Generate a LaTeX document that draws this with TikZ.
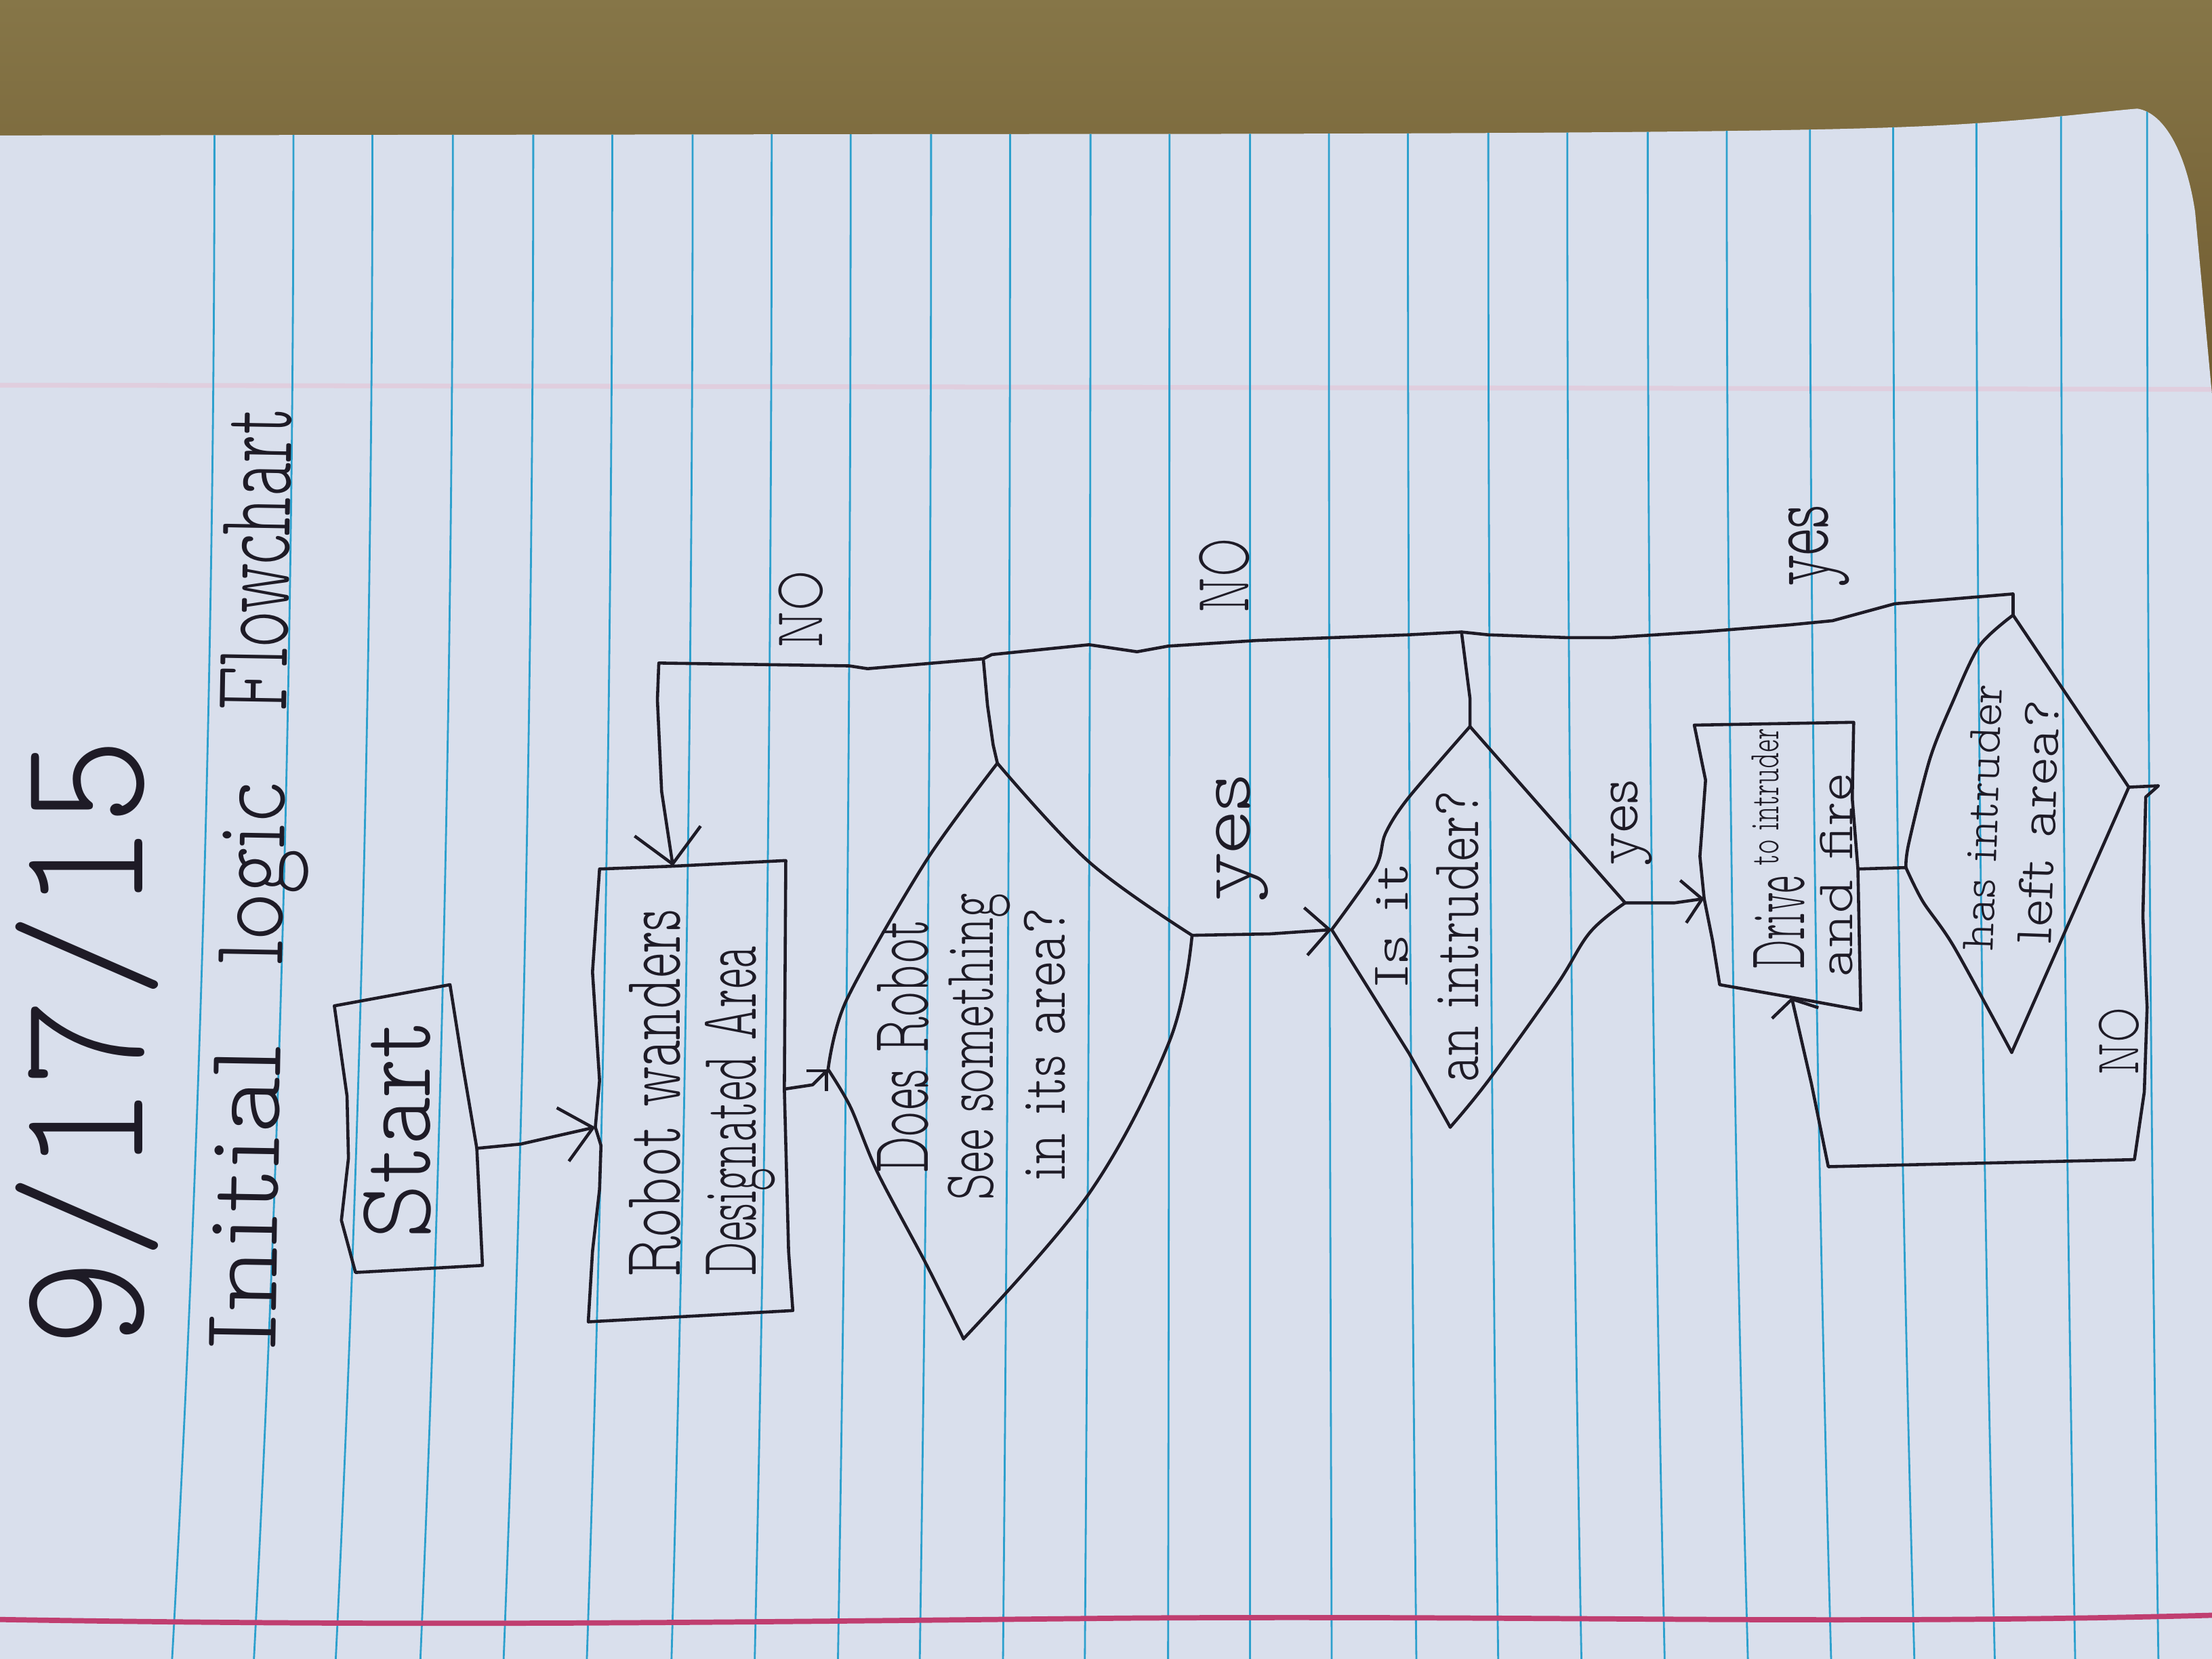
\documentclass[tikz,border=0pt]{standalone}
\usepackage{fontspec}
\usepackage{graphicx}
\usetikzlibrary{arrows.meta}
\newfontfamily\hand{lmmonoproplt10-regular.otf}
% one unit of the drawing grid
\newlength\spx
\setlength\spx{0.020816cm}
% handwritten line: width, height (above baseline), text
\newcommand\hw[3]{\resizebox{#1\spx}{#2\spx}{\hand #3}}
\definecolor{tabletop}{RGB}{134,118,72}
\definecolor{tablebot}{RGB}{108,86,43}
\definecolor{papercol}{RGB}{217,223,236}
\definecolor{rulecol}{RGB}{45,160,205}
\definecolor{margincol}{RGB}{192,62,112}
\definecolor{faintcol}{RGB}{224,206,222}
\definecolor{inkcol}{RGB}{30,27,38}
\begin{document}
\begin{tikzpicture}[x=0.020816cm, y=-0.020816cm,
  ink/.style={draw=inkcol, line width=1.3pt, line join=round, line cap=round},
  hwtext/.style={inner sep=0pt, outer sep=0pt, anchor=base, text=inkcol},
  barb/.style 2 args={-{Straight Barb[length=#1, width=#2]}},
  rulestyle/.style={draw=rulecol, line width=0.8pt}]

\useasboundingbox (0,0) rectangle (1568,1176);

% desk behind the sheet
\shade[top color=tabletop, bottom color=tablebot] (0,0) rectangle (1568,330);

% the sheet of ruled paper
\fill[papercol] (0,96) -- (700,95) .. controls (1000,95) and (1250,94) .. (1350,90)
  .. controls (1430,87) and (1480,80) .. (1515,77) .. controls (1535,80) and (1550,110) .. (1556,150)
  -- (1568,280) -- (1568,1176) -- (0,1176) -- cycle;
\begin{scope}
  \clip (0,96) -- (700,95) .. controls (1000,95) and (1250,94) .. (1350,90)
    .. controls (1430,87) and (1480,80) .. (1515,77) .. controls (1535,80) and (1550,110) .. (1556,150)
    -- (1568,280) -- (1568,1176) -- (0,1176) -- cycle;
  \draw[faintcol, line width=2pt] (0,273) -- (1568,276);
  \foreach \ta/\tb in {152/122, 208/180, 264/238, 321/298, 378/357, 434/416, 491/476,
      547/535, 603/594, 660/652, 716/711, 773/769, 829/828, 886/886, 942/944, 998/1004,
      1055/1062, 1111/1121, 1168/1180, 1224/1239, 1283/1298, 1342/1357, 1401/1414,
      1461/1471, 1522/1530}
    {\draw[rulestyle] (\ta,40) -- (\ta,96) .. controls (\ta,456) and ({\ta+(\tb-\ta)/3},816) .. (\tb,1176);}
  \draw[margincol, line width=2.2pt] (0,1148) .. controls (300,1153) and (500,1150) .. (800,1147)
    .. controls (1100,1145) and (1300,1152) .. (1568,1145);
\end{scope}

% heading
\node[hwtext, rotate=90] (date) at (101,739) {\hw{432}{90}{9/17/15}};
\node[hwtext, rotate=89] (heading) at (201,624)
  {\hw{218}{47}{Initial}\hspace{56\spx}\hw{130}{45}{logic}\hspace{50\spx}\hw{215}{47}{Flowchart}};

% start box
\coordinate (st-tl) at (237,713);
\coordinate (st-tr) at (319,698);
\coordinate (st-br) at (342,897);
\coordinate (st-bl) at (252,902);
\coordinate (st-e) at (338,814);
\draw[ink] (st-tl) -- (st-tr) -- (328,755) -- (st-e) -- (st-br) -- (st-bl)
  -- (242,865) -- (247,821) -- (246,777) -- cycle;
\node[hwtext, rotate=90] (start) at (305,801) {\hw{155}{47}{Start}};

% wander box
\coordinate (rb-tl) at (425,616);
\coordinate (rb-tr) at (557,610);
\coordinate (rb-br) at (562,929);
\coordinate (rb-bl) at (417,937);
\coordinate (rb-w) at (422,799);
\coordinate (rb-e) at (556,772);
\coordinate (rb-n) at (477,614);
\draw[ink] (rb-tl) -- (rb-n) -- (rb-tr) -- (rb-e) -- (559,887) -- (rb-br) -- (rb-bl)
  -- (420,887) -- (425,843) -- (426,812) -- (rb-w) -- (425,766) -- (420,689) -- cycle;
\node[hwtext, rotate=90] (wander1) at (482,775) {\hw{261}{36}{Robot wanders}};
\node[hwtext, rotate=90] (wander2) at (536,788) {\hw{234}{36}{Designated Area}};

% first decision
\coordinate (d1-t) at (707,541);
\coordinate (d1-r) at (845,663);
\coordinate (d1-b) at (683,949);
\coordinate (d1-l) at (587,758);
\draw[ink] plot[smooth, tension=0.5] coordinates {(d1-t) (656,611) (600,709) (d1-l)};
\draw[ink] plot[smooth, tension=0.5] coordinates {(d1-l) (603,785) (622,831) (656,895) (d1-b)};
\draw[ink] plot[smooth, tension=0.6] coordinates {(d1-b) (772,846) (829,738) (d1-r)};
\draw[ink] plot[smooth, tension=0.6] coordinates {(d1-r) (772,611) (d1-t)};
\node[hwtext, rotate=90] (see1) at (658,742) {\hw{180}{36}{Does Robot}};
\node[hwtext, rotate=90] (see2) at (704,742) {\hw{218}{32}{See something}};
\node[hwtext, rotate=90] (see3) at (755,740) {\hw{193}{29}{in its area?}};

% second decision
\coordinate (d2-t) at (1042,515);
\coordinate (d2-l) at (944,659);
\coordinate (d2-r) at (1152,640);
\coordinate (d2-b) at (1028,799);
\draw[ink] plot[smooth, tension=0.5] coordinates {(d2-t) (998,566) (982,591) (975,615) (d2-l)};
\draw[ink] (d2-l) -- (999,747) -- (d2-b);
\draw[ink] plot[smooth, tension=0.6] coordinates {(d2-b) (1055,766) (1103,699) (1127,661) (d2-r)};
\draw[ink] (d2-r) -- (d2-t);
\node[hwtext, rotate=90] (intr1) at (998,656) {\hw{89}{23}{Is it}};
\node[hwtext, rotate=90] (intr2) at (1048,664) {\hw{207}{30}{an intruder?}};

% action box
\coordinate (dr-tl) at (1201,514);
\coordinate (dr-tr) at (1314,512);
\coordinate (dr-br) at (1319,716);
\coordinate (dr-bl) at (1219,698);
\coordinate (dr-w) at (1208,637);
\coordinate (dr-e) at (1317,616);
\coordinate (dr-s) at (1270,707);
\draw[ink] (dr-tl) -- (dr-tr) -- (1313,566) -- (dr-e) -- (dr-br) -- (dr-s) -- (dr-bl)
  -- (1214,667) -- (dr-w) -- (1205,607) -- (1209,553) -- cycle;
\node[hwtext, rotate=90] (drive1) at (1279,654) {\hw{66}{36}{Drive}};
\node[hwtext, rotate=90] (drive2) at (1261,565) {\hw{97}{19}{to intruder}};
\node[hwtext, rotate=90] (drive3) at (1313,621) {\hw{144}{23}{and fire}};

% third decision
\coordinate (d3-t) at (1427,436);
\coordinate (d3-l) at (1351,615);
\coordinate (d3-r) at (1509,558);
\coordinate (d3-b) at (1426,746);
\draw[ink] plot[smooth, tension=0.5] coordinates {(d3-t) (1403,458) (1384,498) (1368,538) (1353,598) (d3-l)};
\draw[ink] plot[smooth, tension=0.5] coordinates {(d3-l) (1363,639) (1385,671) (d3-b)};
\draw[ink] (d3-b) -- (d3-r) -- (d3-t);
\node[hwtext, rotate=88] (left1) at (1416,580) {\hw{189}{21}{has intruder}};
\node[hwtext, rotate=88] (left2) at (1457,583) {\hw{173}{24}{left area?}};

% connectors
\coordinate (j1) at (697,467);
\coordinate (j2) at (1036,448);
\coordinate (yc) at (1427,421);
\coordinate (lc) at (467,470);
\draw[ink, barb={13pt}{23pt}] (st-e) -- (369,811) -- (rb-w);
\draw[ink, barb={6pt}{12pt}] (rb-e) -- (576,769) -- (d1-l);
\draw[ink, barb={10pt}{20pt}] (d1-r) -- (900,662) -- (d2-l);
\draw[ink, barb={8pt}{18pt}] (d2-r) -- (1187,640) -- (dr-w);
\draw[ink] (dr-e) -- (d3-l);
\draw[ink, barb={14pt}{28pt}] (d3-t) -- (yc) -- (1343,428) -- (1299,440) -- (1268,443)
  -- (1205,448) -- (1142,452) -- (1111,452) -- (1055,450) -- (j2) -- (998,450)
  -- (891,454) -- (828,458) -- (806,462) -- (772,457) -- (703,464) -- (j1)
  -- (615,474) -- (602,472) -- (lc) -- (466,496) -- (469,561) -- (rb-n);
\draw[ink] (d1-t) -- (704,528) -- (700,500) -- (j1);
\draw[ink] (d2-t) -- (1042,495) -- (j2);
\draw[ink, barb={6pt}{20pt}] (d3-r) -- (1530,557) -- (1521,565) -- (1519,650) -- (1522,714)
  -- (1520,774) -- (1513,822) -- (1296,827) -- (1284,768) -- (dr-s);

% branch labels
\node[hwtext, rotate=90] (no1) at (583,432) {\hw{55}{31}{NO}};
\node[hwtext, rotate=90] (no2) at (885,408) {\hw{53}{35}{NO}};
\node[hwtext, rotate=90] (yes3) at (1296,387) {\hw{58}{28}{yes}};
\node[hwtext, rotate=90] (yes1) at (886,594) {\hw{90}{24}{yes}};
\node[hwtext, rotate=90] (yes2) at (1161,583) {\hw{61}{19}{yes}};
\node[hwtext, rotate=90] (no3) at (1516,738) {\hw{48}{28}{NO}};
\end{tikzpicture}
\end{document}
